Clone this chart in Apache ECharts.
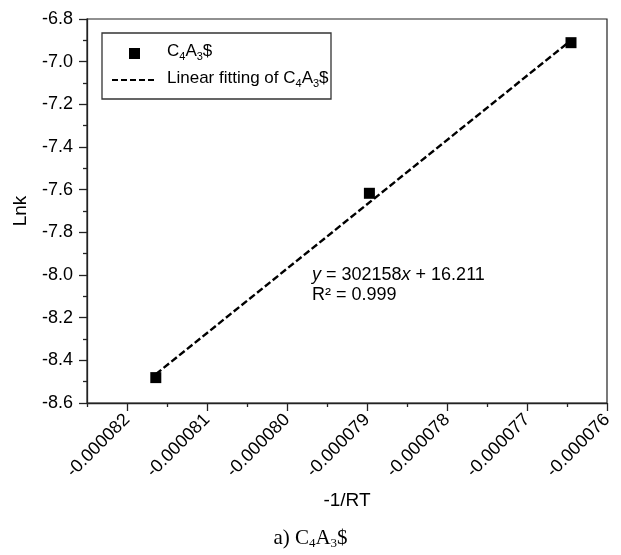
<!DOCTYPE html>
<html><head><meta charset="utf-8">
<script src="https://cdn.jsdelivr.net/npm/echarts@6/dist/echarts.min.js"></script>
<style>html,body{margin:0;padding:0;background:#fff}#c{width:621px;height:555px}</style>
</head><body><div id="c"></div>
<script>
// Data
const xValues = [-0.00008164, -0.00007897, -0.00007645];
const yValues = [-8.481, -7.617, -6.911];
const fitX = [-0.00008164, -0.00007645];
const fitY = [-8.465, -6.900];
const xMajorTicks = [-0.000082, -0.000081, -0.000080, -0.000079, -0.000078, -0.000077, -0.000076];
const xMinorTicks = [-0.0000825, -0.0000815, -0.0000805, -0.0000795, -0.0000785, -0.0000775, -0.0000765];

const FONT = 'Liberation Sans, Arial, sans-serif';
const SERIF = 'Liberation Serif, Times New Roman, serif';
const AX = '#222';
const chart = echarts.init(document.getElementById('c'));
const subRich = {
  n: {fontSize: 17, fontFamily: FONT, color: '#000', lineHeight: 22},
  s: {fontSize: 11, fontFamily: FONT, color: '#000', padding: [10, 0, 0, 0], lineHeight: 22}
};
chart.setOption({
  animation: false,
  grid: {left: 87, top: 19, width: 520, height: 384, containLabel: false, outerBoundsMode: 'none',
    show: true, borderColor: AX, borderWidth: 1.2, backgroundColor: 'transparent'},
  xAxis: [{
    type: 'value', min: -0.0000825, max: -0.000076,
    name: '-1/RT', nameLocation: 'middle', nameGap: 88,
    nameTextStyle: {fontSize: 19, fontFamily: FONT, color: '#000'},
    axisLine: {show: true, onZero: false, lineStyle: {color: AX, width: 1.3}},
    axisTick: {show: true, length: 8, customValues: xMajorTicks, lineStyle: {color: AX, width: 1.3}},
    axisLabel: {show: true, customValues: xMajorTicks, rotate: 45, margin: 14, fontSize: 18, fontFamily: FONT, color: '#000',
      formatter: v => v.toFixed(6)},
    splitLine: {show: false}
  }, {
    type: 'value', min: -0.0000825, max: -0.000076, position: 'bottom',
    axisLine: {show: false},
    axisTick: {show: true, length: 4, customValues: xMinorTicks, lineStyle: {color: AX, width: 1.3}},
    axisLabel: {show: false},
    splitLine: {show: false}
  }],
  yAxis: {
    type: 'value', min: -8.6, max: -6.8, interval: 0.2,
    name: 'Lnk', nameLocation: 'middle', nameGap: 57,
    nameTextStyle: {fontSize: 19, fontFamily: FONT, color: '#000'},
    axisLine: {show: true, onZero: false, lineStyle: {color: AX, width: 1.3}},
    axisTick: {show: true, length: 8, lineStyle: {color: AX, width: 1.3}},
    minorTick: {show: true, splitNumber: 2, length: 4, lineStyle: {color: AX, width: 1.3}},
    axisLabel: {fontSize: 18, fontFamily: FONT, color: '#000', margin: 14, formatter: v => v.toFixed(1)},
    splitLine: {show: false}, minorSplitLine: {show: false}
  },
  series: [{
    type: 'line', xAxisIndex: 0, data: fitX.map((x, i) => [x, fitY[i]]),
    showSymbol: false, symbol: 'none', lineStyle: {color: '#000', width: 2.4, type: [7, 3]}, z: 2
  }, {
    type: 'scatter', xAxisIndex: 0, data: xValues.map((x, i) => [x, yValues[i]]),
    symbol: 'rect', symbolSize: 11, itemStyle: {color: '#000', opacity: 1}, z: 3
  }],
  graphic: [
    {type: 'rect', shape: {x: 102, y: 33, width: 229, height: 66}, style: {fill: '#fff', stroke: '#333', lineWidth: 1.3}, z: 10},
    {type: 'rect', shape: {x: 129, y: 48, width: 11, height: 11}, style: {fill: '#000'}, z: 11},
    {type: 'line', shape: {x1: 112, y1: 80, x2: 157, y2: 80}, style: {stroke: '#000', lineWidth: 2, lineDash: [6, 3]}, z: 11},
    {type: 'text', left: 167, top: 41, z: 11, style: {text: '{n|C}{s|4}{n|A}{s|3}{n|$}', rich: subRich}},
    {type: 'text', left: 167, top: 68, z: 11, style: {text: '{n|Linear fitting of C}{s|4}{n|A}{s|3}{n|$}', rich: subRich}},
    {type: 'text', left: 312, top: 266, z: 11, style: {
      text: '{i|y}{n| = 302158}{i|x}{n| + 16.211}',
      rich: {n: {fontSize: 18, fontFamily: FONT, color: '#000'}, i: {fontSize: 18, fontFamily: FONT, fontStyle: 'italic', color: '#000'}}}},
    {type: 'text', left: 312, top: 286, z: 11, style: {text: 'R² = 0.999', fontSize: 18, fontFamily: FONT, fill: '#000'}},
    {type: 'text', left: 'center', top: 526, z: 11, style: {
      text: '{n|a) C}{s|4}{n|A}{s|3}{n|$}',
      rich: {n: {fontSize: 21, fontFamily: SERIF, color: '#000', lineHeight: 26},
             s: {fontSize: 13, fontFamily: SERIF, color: '#000', padding: [11, 0, 0, 0], lineHeight: 26}}}}
  ]
});
</script></body></html>
